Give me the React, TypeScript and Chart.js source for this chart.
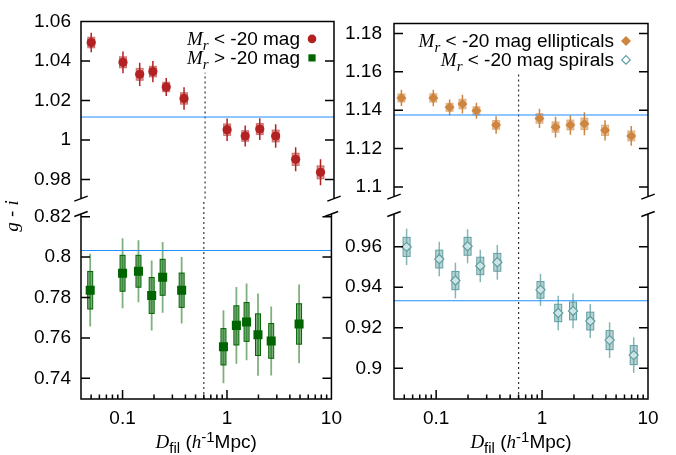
import React, { useEffect, useRef } from 'react';
import { Chart, registerables } from 'chart.js';

Chart.register(...registerables);
Chart.defaults.color = '#000';
Chart.defaults.font.family = '"Liberation Sans", Arial, Helvetica, sans-serif';
Chart.defaults.font.size = 19;

// ---------------- data ----------------
const X_MIN = 0.04;
const X_MAX = 10;
const xTickValues = [0.1, 1, 10];
const xMinorValues = [0.05, 0.06, 0.07, 0.08, 0.09, 0.2, 0.3, 0.4, 0.5, 0.6, 0.7, 0.8, 0.9, 2, 3, 4, 5, 6, 7, 8, 9];
const dividerX = 0.6;

// top-left: Mr < -20 (red circles)
const brightX = [0.05, 0.1, 0.144, 0.192, 0.257, 0.379, 0.97, 1.44, 1.98, 2.8, 4.33, 7.45];
const brightY = [1.0493, 1.0393, 1.0332, 1.0346, 1.0268, 1.021, 1.0052, 1.002, 1.0055, 1.002, 0.9902, 0.9836];
const brightWhisker = [0.0049, 0.0055, 0.0059, 0.0054, 0.0046, 0.0057, 0.0057, 0.0053, 0.0055, 0.0059, 0.0061, 0.0066];
const brightBox = [0.0027, 0.0028, 0.003, 0.0027, 0.0024, 0.0029, 0.0029, 0.0027, 0.0028, 0.003, 0.0031, 0.0033];
const brightMean = 1.0116;

// bottom-left: Mr > -20 (green squares)
const faintX = [0.049, 0.1, 0.142, 0.19, 0.242, 0.368, 0.925, 1.23, 1.54, 1.98, 2.65, 4.9];
const faintY = [0.7836, 0.792, 0.793, 0.781, 0.79, 0.7836, 0.7556, 0.7662, 0.7679, 0.7616, 0.7585, 0.7669];
const faintWhisker = [0.018, 0.0173, 0.0154, 0.0173, 0.0175, 0.0165, 0.0181, 0.019, 0.019, 0.0204, 0.0171, 0.0195];
const faintBox = [0.0093, 0.0089, 0.0079, 0.0089, 0.0089, 0.0085, 0.009, 0.0097, 0.0096, 0.0103, 0.0086, 0.01];
const faintMean = 0.8033;

// top-right: ellipticals (orange diamonds)
const ellX = [0.047, 0.094, 0.134, 0.177, 0.24, 0.368, 0.945, 1.34, 1.85, 2.51, 3.93, 6.95];
const ellY = [1.1464, 1.1464, 1.1415, 1.1432, 1.1397, 1.1323, 1.1357, 1.1312, 1.1323, 1.1329, 1.1295, 1.1266];
const ellWhisker = [0.0042, 0.0043, 0.0041, 0.0049, 0.0042, 0.0046, 0.005, 0.0054, 0.0051, 0.006, 0.0053, 0.0052];
const ellBox = [0.0021, 0.0022, 0.0021, 0.0025, 0.0021, 0.0023, 0.0025, 0.0027, 0.0026, 0.003, 0.0027, 0.0026];
const ellMean = 1.1375;

// bottom-right: spirals (teal open diamonds)
const spiX = [0.0526, 0.107, 0.152, 0.198, 0.261, 0.378, 0.966, 1.42, 1.96, 2.85, 4.34, 7.33];
const spiY = [0.9599, 0.9539, 0.9433, 0.9602, 0.9505, 0.9523, 0.9387, 0.9273, 0.9283, 0.9233, 0.9139, 0.9065];
const spiWhisker = [0.009, 0.0085, 0.0088, 0.0084, 0.008, 0.0086, 0.0079, 0.0085, 0.0086, 0.0084, 0.0088, 0.0088];
const spiBox = [0.0047, 0.0044, 0.0045, 0.0044, 0.0043, 0.0044, 0.0041, 0.0043, 0.0044, 0.0044, 0.0047, 0.0047];
const spiMean = 0.9333;

const yTicksTL = [0.98, 1.0, 1.02, 1.04, 1.06];
const yTicksBL = [0.74, 0.76, 0.78, 0.8, 0.82];
const yTicksTR = [1.1, 1.12, 1.14, 1.16, 1.18];
const yTicksBR = [0.9, 0.92, 0.94, 0.96];

// ---------------- styles ----------------
const RED = 'rgb(178,34,34)';
const GREEN = 'rgb(0,100,0)';
const ORANGE = 'rgb(205,133,63)';
const TEAL = 'rgb(95,158,160)';
const BLUE = 'rgb(30,144,255)';

const SERIF_I = 'italic 19px "Liberation Serif", "DejaVu Serif", serif';
const SERIF_I_S = 'italic 15px "Liberation Serif", "DejaVu Serif", serif';
const SANS = '19px "Liberation Sans", Arial, sans-serif';
const SANS_S = '15px "Liberation Sans", Arial, sans-serif';

type Seg = { t: string; f: string; dy?: number };
type Marker = { shape: 'circle' | 'square' | 'diamond' | 'odiamond'; color: string };
type LegendItem = { segs: Seg[]; marker: Marker };

const MR: Seg[] = [
  { t: 'M', f: SERIF_I },
  { t: 'r', f: SERIF_I_S, dy: 5 },
];

const legendLeft: LegendItem[] = [
  { segs: [...MR, { t: ' < -20 mag', f: SANS }], marker: { shape: 'circle', color: RED } },
  { segs: [...MR, { t: ' > -20 mag', f: SANS }], marker: { shape: 'square', color: GREEN } },
];
const legendRight: LegendItem[] = [
  { segs: [...MR, { t: ' < -20 mag ellipticals', f: SANS }], marker: { shape: 'diamond', color: ORANGE } },
  { segs: [...MR, { t: ' < -20 mag spirals', f: SANS }], marker: { shape: 'odiamond', color: TEAL } },
];

const xTitleSegs: Seg[] = [
  { t: 'D', f: SERIF_I },
  { t: 'fil', f: SANS_S, dy: 5 },
  { t: ' (', f: SANS },
  { t: 'h', f: SERIF_I },
  { t: '-1', f: SANS_S, dy: -6 },
  { t: 'Mpc)', f: SANS },
];
const yTitleSegs: Seg[] = [
  { t: 'g', f: SERIF_I },
  { t: ' - ', f: SANS },
  { t: 'i', f: SERIF_I },
];

type ErrStyle = {
  whisker: string;
  whiskerWidth: number;
  boxFill: string;
  boxStroke?: string;
  boxW: number;
};

type SeriesSpec = {
  label: string;
  x: number[];
  y: number[];
  whisker: number[];
  box: number[];
  pointStyle: string;
  radius: number;
  fill: string;
  stroke: string;
  strokeWidth: number;
  err: ErrStyle;
};

type PanelSpec = {
  id: string;
  left: number;
  top: number;
  width: number;
  height: number;
  part: 'top' | 'bottom';
  yMin: number;
  yMax: number;
  yTicks: number[];
  yAxisWidth: number;
  labelPad: number;
  padRight: number;
  padTop: number;
  padBottom: number;
  series: SeriesSpec;
  mean: number;
  dividerTop: number;
  legend?: LegendItem[];
  yTitle?: boolean;
  xTitle?: boolean;
};

const PANELS: PanelSpec[] = [
  {
    id: 'tl', left: 0, top: 0, width: 350, height: 220, part: 'top',
    yMin: 0.9703, yMax: 1.06, yTicks: yTicksTL, yAxisWidth: 81, labelPad: 10,
    padRight: 16, padTop: 17, padBottom: 19,
    series: {
      label: 'Mr < -20 mag', x: brightX, y: brightY, whisker: brightWhisker, box: brightBox,
      pointStyle: 'circle', radius: 4.6, fill: RED, stroke: RED, strokeWidth: 0,
      err: { whisker: RED, whiskerWidth: 1.5, boxFill: 'rgba(178,34,34,0.45)', boxStroke: 'rgba(178,34,34,0.55)', boxW: 7 },
    },
    mean: brightMean, dividerTop: 1.034, legend: legendLeft,
  },
  {
    id: 'bl', left: 0, top: 186, width: 350, height: 269, part: 'bottom',
    yMin: 0.72975, yMax: 0.82134, yTicks: yTicksBL, yAxisWidth: 81, labelPad: 10,
    padRight: 16, padTop: 28, padBottom: 0,
    series: {
      label: 'Mr > -20 mag', x: faintX, y: faintY, whisker: faintWhisker, box: faintBox,
      pointStyle: 'rect', radius: 6.4, fill: GREEN, stroke: GREEN, strokeWidth: 0,
      err: { whisker: 'rgba(0,100,0,0.5)', whiskerWidth: 1.8, boxFill: 'rgba(0,100,0,0.5)', boxStroke: GREEN, boxW: 5 },
    },
    mean: faintMean, dividerTop: 0.828, yTitle: true, xTitle: true,
  },
  {
    id: 'tr', left: 338, top: 0, width: 338, height: 220, part: 'top',
    yMin: 1.09494, yMax: 1.18525, yTicks: yTicksTR, yAxisWidth: 56, labelPad: 12,
    padRight: 28, padTop: 17, padBottom: 19,
    series: {
      label: 'Mr < -20 mag ellipticals', x: ellX, y: ellY, whisker: ellWhisker, box: ellBox,
      pointStyle: 'rectRot', radius: 5, fill: ORANGE, stroke: ORANGE, strokeWidth: 0,
      err: { whisker: ORANGE, whiskerWidth: 1.5, boxFill: 'rgba(205,133,63,0.45)', boxStroke: 'rgba(205,133,63,0.55)', boxW: 7 },
    },
    mean: ellMean, dividerTop: 1.1593, legend: legendRight,
  },
  {
    id: 'br', left: 338, top: 186, width: 338, height: 269, part: 'bottom',
    yMin: 0.88485, yMax: 0.97613, yTicks: yTicksBR, yAxisWidth: 56, labelPad: 12,
    padRight: 28, padTop: 28, padBottom: 0,
    series: {
      label: 'Mr < -20 mag spirals', x: spiX, y: spiY, whisker: spiWhisker, box: spiBox,
      pointStyle: 'rectRot', radius: 4.6, fill: 'rgba(215,235,235,0.85)', stroke: TEAL, strokeWidth: 1.2,
      err: { whisker: 'rgba(95,158,160,0.75)', whiskerWidth: 1.5, boxFill: 'rgba(95,158,160,0.45)', boxStroke: TEAL, boxW: 7 },
    },
    mean: spiMean, dividerTop: 0.983, xTitle: true,
  },
];

// ---------------- helpers ----------------
function segsWidth(ctx: CanvasRenderingContext2D, segs: Seg[]) {
  let w = 0;
  for (const s of segs) {
    ctx.font = s.f;
    w += ctx.measureText(s.t).width;
  }
  return w;
}

function drawSegs(ctx: CanvasRenderingContext2D, segs: Seg[], x: number, y: number) {
  let cx = x;
  ctx.textBaseline = 'alphabetic';
  ctx.textAlign = 'left';
  for (const s of segs) {
    ctx.font = s.f;
    ctx.fillText(s.t, cx, y + (s.dy || 0));
    cx += ctx.measureText(s.t).width;
  }
}

function drawMarker(ctx: CanvasRenderingContext2D, m: Marker, x: number, y: number) {
  ctx.save();
  ctx.beginPath();
  if (m.shape === 'circle') {
    ctx.arc(x, y, 4.3, 0, Math.PI * 2);
    ctx.fillStyle = m.color;
    ctx.fill();
  } else if (m.shape === 'square') {
    ctx.fillStyle = m.color;
    ctx.fillRect(x - 3.6, y - 3.6, 7.2, 7.2);
  } else {
    const r = m.shape === 'diamond' ? 5 : 4.3;
    ctx.moveTo(x - r, y);
    ctx.lineTo(x, y - r);
    ctx.lineTo(x + r, y);
    ctx.lineTo(x, y + r);
    ctx.closePath();
    if (m.shape === 'diamond') {
      ctx.fillStyle = m.color;
      ctx.fill();
    } else {
      ctx.strokeStyle = m.color;
      ctx.lineWidth = 1.2;
      ctx.stroke();
    }
  }
  ctx.restore();
}

function makeDecoPlugin(p: PanelSpec) {
  return {
    id: 'deco_' + p.id,
    beforeDatasetsDraw(chart: any) {
      const { ctx, chartArea: ca } = chart;
      const xs = chart.scales.x;
      const ys = chart.scales.y;
      ctx.save();
      ctx.beginPath();
      ctx.rect(ca.left, ca.top, ca.right - ca.left, ca.bottom - ca.top);
      ctx.clip();
      chart.data.datasets.forEach((ds: any) => {
        const e: ErrStyle | undefined = ds.errStyle;
        if (!e) return;
        ds.data.forEach((pt: any, j: number) => {
          const px = xs.getPixelForValue(pt.x);
          const w = ds.errW[j];
          const b = ds.errB[j];
          ctx.strokeStyle = e.whisker;
          ctx.lineWidth = e.whiskerWidth;
          ctx.beginPath();
          ctx.moveTo(px, ys.getPixelForValue(pt.y - w));
          ctx.lineTo(px, ys.getPixelForValue(pt.y + w));
          ctx.stroke();
          const t = ys.getPixelForValue(pt.y + b);
          const bt = ys.getPixelForValue(pt.y - b);
          ctx.fillStyle = e.boxFill;
          ctx.fillRect(px - e.boxW / 2, t, e.boxW, bt - t);
          if (e.boxStroke) {
            ctx.strokeStyle = e.boxStroke;
            ctx.lineWidth = 1;
            ctx.strokeRect(px - e.boxW / 2, t, e.boxW, bt - t);
          }
        });
      });
      ctx.restore();
    },
    afterDraw(chart: any) {
      const { ctx, chartArea: ca } = chart;
      const xs = chart.scales.x;
      const ys = chart.scales.y;
      ctx.save();
      ctx.strokeStyle = '#000';
      ctx.lineWidth = 1.5;
      ctx.beginPath();
      ctx.moveTo(ca.left, ca.top);
      ctx.lineTo(ca.left, ca.bottom);
      ctx.moveTo(ca.right, ca.top);
      ctx.lineTo(ca.right, ca.bottom);
      if (p.part === 'top') {
        ctx.moveTo(ca.left - 0.75, ca.top);
        ctx.lineTo(ca.right + 0.75, ca.top);
      } else {
        ctx.moveTo(ca.left - 0.75, ca.bottom);
        ctx.lineTo(ca.right + 0.75, ca.bottom);
      }
      ys.ticks.forEach((t: any) => {
        const py = ys.getPixelForValue(t.value);
        ctx.moveTo(ca.left, py);
        ctx.lineTo(ca.left + 9, py);
        ctx.moveTo(ca.right, py);
        ctx.lineTo(ca.right - 9, py);
      });
      if (p.part === 'bottom') {
        xTickValues.forEach((v) => {
          const px = xs.getPixelForValue(v);
          ctx.moveTo(px, ca.bottom);
          ctx.lineTo(px, ca.bottom - 9);
        });
        xMinorValues.forEach((v) => {
          const px = xs.getPixelForValue(v);
          ctx.moveTo(px, ca.bottom);
          ctx.lineTo(px, ca.bottom - 4.5);
        });
      }
      const by = p.part === 'top' ? ca.bottom : ca.top;
      [ca.left, ca.right].forEach((x: number) => {
        ctx.moveTo(x - 6.7, by + 2.5);
        ctx.lineTo(x + 6.7, by - 2.5);
      });
      ctx.stroke();

      ctx.fillStyle = '#000';
      if (p.legend) {
        const endX = ca.right - 34;
        const mx = ca.right - 22;
        p.legend.forEach((item, i) => {
          const base = ca.top + 23.5 + i * 19;
          const w = segsWidth(ctx, item.segs);
          drawSegs(ctx, item.segs, endX - w, base);
          drawMarker(ctx, item.marker, mx, base - 6);
        });
      }
      if (p.xTitle) {
        const w = segsWidth(ctx, xTitleSegs);
        const cx = (ca.left + ca.right) / 2;
        drawSegs(ctx, xTitleSegs, cx - w / 2, ca.bottom + 49);
      }
      if (p.yTitle) {
        ctx.save();
        ctx.translate(18, ca.top + 2);
        ctx.rotate(-Math.PI / 2);
        const w = segsWidth(ctx, yTitleSegs);
        drawSegs(ctx, yTitleSegs, -w / 2, 0);
        ctx.restore();
      }
      ctx.restore();
    },
  };
}

function buildConfig(p: PanelSpec): any {
  const s = p.series;
  const pts = s.x.map((v, i) => ({ x: v, y: s.y[i] }));
  const yLow = p.yMin;
  const isBottom = p.part === 'bottom';
  return {
    type: 'scatter',
    data: {
      datasets: [
        {
          label: s.label,
          data: pts,
          pointStyle: s.pointStyle,
          pointRadius: s.radius,
          pointBackgroundColor: s.fill,
          pointBorderColor: s.stroke,
          pointBorderWidth: s.strokeWidth,
          backgroundColor: s.fill,
          borderColor: s.stroke,
          showLine: false,
          errW: s.whisker,
          errB: s.box,
          errStyle: s.err,
        },
        {
          label: 'mean',
          data: [
            { x: X_MIN, y: p.mean },
            { x: X_MAX, y: p.mean },
          ],
          showLine: true,
          pointRadius: 0,
          borderColor: BLUE,
          borderWidth: 1.1,
        },
        {
          label: 'divider',
          data: [
            { x: dividerX, y: yLow },
            { x: dividerX, y: p.dividerTop },
          ],
          showLine: true,
          pointRadius: 0,
          borderColor: '#333',
          borderWidth: 1.2,
          borderDash: [2, 3],
          clip: false,
        },
      ],
    },
    options: {
      responsive: false,
      animation: false,
      events: [],
      layout: { padding: { left: 0, right: p.padRight, top: p.padTop, bottom: p.padBottom } },
      plugins: { legend: { display: false }, tooltip: { enabled: false } },
      scales: {
        x: {
          type: 'logarithmic',
          min: X_MIN,
          max: X_MAX,
          display: isBottom,
          position: 'bottom',
          grid: { display: false, drawTicks: false },
          border: { display: false },
          afterBuildTicks: (sc: any) => {
            sc.ticks = xTickValues.map((v) => ({ value: v, major: true }));
          },
          afterFit: (sc: any) => {
            sc.height = isBottom ? 56 : 0;
          },
          ticks: {
            autoSkip: false,
            maxRotation: 0,
            minRotation: 0,
            padding: 8,
            color: '#000',
            font: { size: 19 },
            callback: (v: any) => String(v),
          },
        },
        y: {
          type: 'linear',
          min: p.yMin,
          max: p.yMax,
          position: 'left',
          grid: { display: false, drawTicks: false },
          border: { display: false },
          afterBuildTicks: (sc: any) => {
            sc.ticks = p.yTicks.map((v) => ({ value: v }));
          },
          afterFit: (sc: any) => {
            sc.width = p.yAxisWidth;
          },
          ticks: {
            autoSkip: false,
            padding: p.labelPad,
            color: '#000',
            font: { size: 19 },
            callback: (v: any) => String(+(+v).toFixed(2)),
          },
        },
      },
    },
    plugins: [makeDecoPlugin(p)],
  };
}

export default function App() {
  const refs = useRef<(HTMLCanvasElement | null)[]>([]);
  useEffect(() => {
    const charts = PANELS.map((p, i) => new Chart(refs.current[i] as HTMLCanvasElement, buildConfig(p)));
    return () => {
      charts.forEach((c) => c.destroy());
    };
  }, []);
  return (
    <div style={{ position: 'fixed', left: 0, top: 0, width: 676, height: 455, background: '#fff' }}>
      {PANELS.map((p, i) => (
        <canvas
          key={p.id}
          ref={(el) => {
            refs.current[i] = el;
          }}
          width={p.width}
          height={p.height}
          style={{ position: 'absolute', left: p.left, top: p.top, width: p.width, height: p.height }}
        />
      ))}
    </div>
  );
}
